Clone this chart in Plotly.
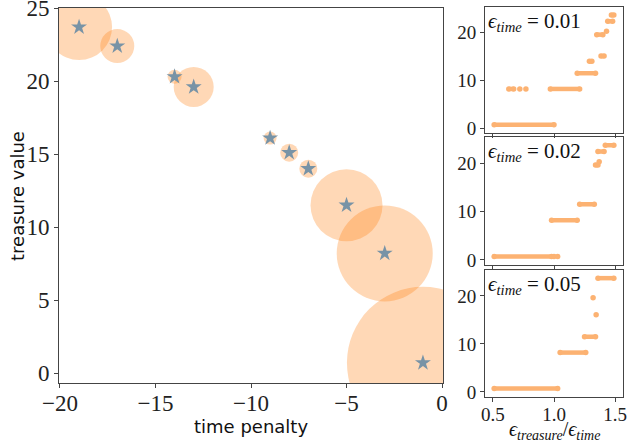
import plotly.graph_objects as go

# ---- main panel data (Pareto front) ----
time_penalty = [-1, -3, -5, -7, -8, -9, -13, -14, -17, -19]
treasure_value = [0.7, 8.2, 11.5, 14.0, 15.1, 16.1, 19.6, 20.3, 22.4, 23.7]
circle_diam = [152, 96, 72, 18, 18, 13, 40, 14, 34, 66]

# ---- right panels: runs of points (level, start ratio, end ratio) ----
p1_level = [0.7, 8.2, 8.2, 8.2, 8.2, 11.5, 14.0, 15.1, 19.6, 20.3, 22.4, 23.7]
p1_start = [0.51, 0.63, 0.72, 0.77, 0.97, 1.19, 1.29, 1.385, 1.35, 1.43, 1.44, 1.47]
p1_end   = [1.00, 0.67, 0.72, 0.77, 1.21, 1.34, 1.31, 1.41, 1.40, 1.43, 1.48, 1.49]

p2_level = [0.7, 0.7, 0.7, 8.2, 11.5, 19.6, 20.3, 22.4, 23.7]
p2_start = [0.51, 1.00, 1.03, 0.98, 1.21, 1.34, 1.37, 1.36, 1.42]
p2_end   = [0.98, 1.00, 1.03, 1.19, 1.33, 1.36, 1.37, 1.41, 1.49]

p3_level = [0.7, 8.2, 11.5, 16.1, 19.6, 23.7]
p3_start = [0.51, 1.05, 1.25, 1.345, 1.32, 1.36]
p3_end   = [1.03, 1.26, 1.34, 1.345, 1.32, 1.49]

eps_time = ["0.01", "0.02", "0.05"]

x_ticks_main = [-20, -15, -10, -5, 0]
y_ticks_main = [0, 5, 10, 15, 20, 25]
x_ticks_small = [0.5, 1.0, 1.5]
y_ticks_small = [0, 10, 20]

W, H = 628, 444
ORANGE_A = "rgba(255,127,14,0.43)"
DOT = "#fcb272"
STAR = "#7893a6"
SPINE = "#444444"
SERIF = "Liberation Serif, DejaVu Serif, serif"
SANS = "DejaVu Sans, sans-serif"

fig = go.Figure()

fig.add_trace(go.Scatter(
    x=time_penalty, y=treasure_value, mode="markers",
    marker=dict(size=circle_diam, color=ORANGE_A, line=dict(width=0)),
    xaxis="x", yaxis="y", showlegend=False, hoverinfo="skip"))
fig.add_trace(go.Scatter(
    x=time_penalty, y=treasure_value, mode="markers",
    marker=dict(symbol="star", size=12, color=STAR, line=dict(width=0)),
    xaxis="x", yaxis="y", showlegend=False))

def runs(levels, starts, ends):
    xs, ys = [], []
    for l, s, e in zip(levels, starts, ends):
        if s == e:
            xs += [s, None]
            ys += [l, None]
        else:
            xs += [s, e, None]
            ys += [l, l, None]
    return xs, ys

panels = [(p1_level, p1_start, p1_end), (p2_level, p2_start, p2_end), (p3_level, p3_start, p3_end)]
for i, (lv, st, en) in enumerate(panels):
    xs, ys = runs(lv, st, en)
    fig.add_trace(go.Scatter(
        x=xs, y=ys, mode="lines+markers",
        line=dict(color=DOT, width=4.5),
        marker=dict(size=5.5, color=DOT),
        xaxis=f"x{i+2}", yaxis=f"y{i+2}", showlegend=False, connectgaps=False))

def px_x(a, b):
    return [a / W, b / W]

def px_y(top, bottom):
    return [1 - bottom / H, 1 - top / H]

axis_common = dict(showgrid=False, zeroline=False, showline=True, linecolor=SPINE,
                   linewidth=1, mirror=True, ticks="outside", ticklen=4, tickcolor=SPINE,
                   automargin=False, ticklabeloverflow="allow")

layout = dict(
    width=W, height=H, margin=dict(l=0, r=0, t=0, b=0, autoexpand=False),
    plot_bgcolor="white", paper_bgcolor="white",
    xaxis=dict(domain=px_x(59, 443), range=[-20.05, 0.05], tickvals=x_ticks_main,
               tickfont=dict(family=SERIF, size=23, color="#222"), ticklabelstandoff=-5,
               anchor="y", **axis_common),
    yaxis=dict(domain=px_y(8, 383), range=[-0.68, 25.01], tickvals=y_ticks_main,
               tickfont=dict(family=SERIF, size=23, color="#222"),
               anchor="x", **axis_common),
)

panel_px = [(7, 133), (137, 265), (270, 397)]
for i, (top, bot) in enumerate(panel_px):
    xa = f"xaxis{i+2}"
    ya = f"yaxis{i+2}"
    layout[xa] = dict(domain=px_x(485, 623), range=[0.435, 1.565], tickvals=x_ticks_small,
                      ticktext=["0.5", "1.0", "1.5"],
                      showticklabels=(i == 2), ticklabelstandoff=-4,
                      tickfont=dict(family=SERIF, size=19, color="#222"),
                      anchor=f"y{i+2}", **axis_common)
    layout[ya] = dict(domain=px_y(top, bot), range=[-1.05, 25.4], tickvals=y_ticks_small,
                      tickfont=dict(family=SERIF, size=19, color="#222"),
                      anchor=f"x{i+2}", **axis_common)

fig.update_layout(**layout)

# axis titles as paper annotations for precise placement
fig.add_annotation(text="time penalty", xref="paper", yref="paper",
                   x=251 / W, y=1 - 426 / H, xanchor="center", yanchor="middle",
                   showarrow=False, font=dict(family=SANS, size=18, color="#111"))
fig.add_annotation(text="treasure value", xref="paper", yref="paper",
                   x=18 / W, y=1 - 196 / H, xanchor="center", yanchor="middle", textangle=-90,
                   showarrow=False, font=dict(family=SANS, size=18, color="#111"))
fig.add_annotation(text="<i>ϵ</i><sub><i>treasure</i></sub>/<i>ϵ</i><sub><i>time</i></sub>",
                   xref="paper", yref="paper", x=554 / W, y=1 - 430 / H,
                   xanchor="center", yanchor="middle", showarrow=False,
                   font=dict(family=SERIF, size=20, color="#111"))

for i, e in enumerate(eps_time):
    fig.add_annotation(
        text=f"<i>ϵ</i><sub><i>time</i></sub> = {e}",
        xref=f"x{i+2} domain", yref=f"y{i+2} domain", x=0.01, y=1.0,
        xanchor="left", yanchor="top", showarrow=False,
        font=dict(family=SERIF, size=21, color="#111"))

fig.write_html("out.html", config={"displayModeBar": False},
               post_script="document.body.style.margin='0';document.body.style.overflow='hidden';")
